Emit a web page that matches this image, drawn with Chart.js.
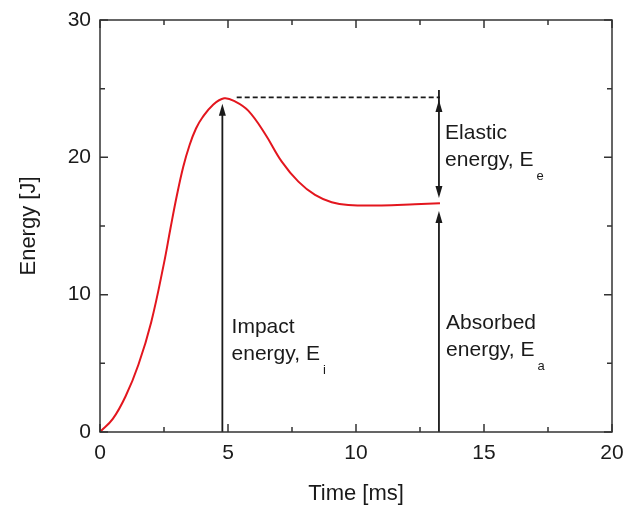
<!DOCTYPE html>
<html>
<head>
<meta charset="utf-8">
<script src="https://cdn.jsdelivr.net/npm/chart.js@4.4.0/dist/chart.umd.min.js"></script>
<style>
  html, body { margin: 0; padding: 0; background: #fff; }
  canvas { display: block; }
</style>
</head>
<body>
<canvas id="energy-chart" width="625" height="506"></canvas>
<script>
// impact test record: energy vs time
const timeMs = [0, 0.5, 1.0, 1.5, 2.0, 2.5, 2.75, 3.0, 3.25, 3.5, 3.75, 4.0, 4.4, 4.85, 5.27, 5.79, 6.45, 7.1, 7.75, 8.4, 9.05, 9.7, 11.0, 12.3, 13.28];
const energyJ = [0, 0.95, 2.6, 4.9, 8.0, 12.3, 14.8, 17.2, 19.3, 20.9, 22.1, 22.9, 23.8, 24.3, 24.08, 23.4, 21.7, 19.69, 18.23, 17.26, 16.73, 16.53, 16.5, 16.58, 16.65];

const xMajor = [0, 5, 10, 15, 20];
const xMinor = [2.5, 7.5, 12.5, 17.5];
const yMajor = [0, 10, 20, 30];
const yMinor = [5, 15, 25];

// dashed reference line at peak energy
const peakLineTime = [5.34, 13.28];
const peakLineEnergy = [24.37, 24.37];

// arrows: x position, start, end, head at start?
const arrowTime = [4.78, 13.24, 13.24];
const arrowFrom = [0, 24.18, 0];
const arrowTo = [23.9, 17.04, 16.1];
const arrowHeadStart = [false, true, false];

// annotation text, anchored at first-line baseline
const noteTime = [5.14, 13.48, 13.52];
const noteEnergy = [7.19, 21.32, 7.48];
const noteLines = [["Impact", "energy, E"], ["Elastic", "energy, E"], ["Absorbed", "energy, E"]];
const noteSubs = ["i", "e", "a"];

const RED = "#e3161e";
const INK = "#1a1a1a";
const AXIS = "#333333";
const FONT = "'Liberation Sans', Arial, sans-serif";

const framePlugin = {
  id: "frame",
  afterDatasetsDraw(chart) {
    const { ctx, chartArea: a, scales: { x, y } } = chart;
    ctx.save();

    // arrows
    ctx.strokeStyle = INK;
    ctx.fillStyle = INK;
    ctx.lineWidth = 1.8;
    arrowTime.forEach((t, i) => {
      const px = x.getPixelForValue(t);
      const p0 = y.getPixelForValue(arrowFrom[i]);
      const p1 = y.getPixelForValue(arrowTo[i]);
      const dir = p1 < p0 ? -1 : 1;
      const headLen = 12;
      const half = 3.5;
      ctx.beginPath();
      ctx.moveTo(px, arrowHeadStart[i] ? p0 - dir * headLen + dir * 2 : p0);
      ctx.lineTo(px, p1 - dir * headLen + dir * 2);
      ctx.stroke();
      const head = (tip, d) => {
        ctx.beginPath();
        ctx.moveTo(px, tip);
        ctx.lineTo(px - half, tip - d * headLen);
        ctx.lineTo(px + half, tip - d * headLen);
        ctx.closePath();
        ctx.fill();
      };
      head(p1, dir);
      if (arrowHeadStart[i]) head(p0, -dir);
    });

    // annotation text with subscripts
    ctx.textBaseline = "alphabetic";
    ctx.textAlign = "left";
    noteTime.forEach((t, i) => {
      const px = x.getPixelForValue(t);
      const py = y.getPixelForValue(noteEnergy[i]);
      ctx.font = "21px " + FONT;
      noteLines[i].forEach((line, j) => {
        ctx.fillText(line, px, py + j * 27);
      });
      const last = noteLines[i][noteLines[i].length - 1];
      const w = ctx.measureText(last).width;
      ctx.font = "13px " + FONT;
      ctx.fillText(noteSubs[i], px + w + 3, py + (noteLines[i].length - 1) * 27 + 14);
    });

    // box frame
    ctx.strokeStyle = AXIS;
    ctx.lineWidth = 1.5;
    ctx.strokeRect(a.left, a.top, a.right - a.left, a.bottom - a.top);

    // inward ticks on all four sides
    const tickX = (vals, len) => vals.forEach((v) => {
      const px = x.getPixelForValue(v);
      ctx.beginPath();
      ctx.moveTo(px, a.bottom); ctx.lineTo(px, a.bottom - len);
      ctx.moveTo(px, a.top); ctx.lineTo(px, a.top + len);
      ctx.stroke();
    });
    const tickY = (vals, len) => vals.forEach((v) => {
      const py = y.getPixelForValue(v);
      ctx.beginPath();
      ctx.moveTo(a.left, py); ctx.lineTo(a.left + len, py);
      ctx.moveTo(a.right, py); ctx.lineTo(a.right - len, py);
      ctx.stroke();
    });
    tickX(xMajor, 8);
    tickX(xMinor, 5);
    tickY(yMajor, 8);
    tickY(yMinor, 5);

    ctx.restore();
  },
};

const ctx = document.getElementById("energy-chart").getContext("2d");
new Chart(ctx, {
  type: "scatter",
  data: {
    datasets: [
      {
        data: timeMs.map((t, i) => ({ x: t, y: energyJ[i] })),
        showLine: true,
        borderColor: RED,
        borderWidth: 2,
        pointRadius: 0,
        tension: 0.4,
      },
      {
        data: peakLineTime.map((t, i) => ({ x: t, y: peakLineEnergy[i] })),
        showLine: true,
        borderColor: INK,
        borderWidth: 1.8,
        borderDash: [5, 3],
        pointRadius: 0,
      },
    ],
  },
  options: {
    responsive: false,
    animation: false,
    devicePixelRatio: 1,
    layout: { padding: { top: 20, right: 13, left: 0, bottom: 0 } },
    plugins: { legend: { display: false }, tooltip: { enabled: false } },
    scales: {
      x: {
        type: "linear",
        min: 0,
        max: 20,
        afterBuildTicks: (scale) => { scale.ticks = xMajor.map((v) => ({ value: v })); },
        afterFit: (scale) => {
          scale.height = 74;
          scale.paddingLeft = 0;
          scale.paddingRight = 0;
        },
        grid: { display: false, drawTicks: false },
        border: { display: false },
        ticks: { padding: 9, maxRotation: 0, color: INK, font: { family: FONT, size: 21 } },
        title: {
          display: true,
          text: "Time [ms]",
          color: INK,
          font: { family: FONT, size: 22, lineHeight: 1 },
          padding: { top: 0, bottom: 1 },
        },
      },
      y: {
        type: "linear",
        min: 0,
        max: 30,
        afterBuildTicks: (scale) => { scale.ticks = yMajor.map((v) => ({ value: v })); },
        afterFit: (scale) => {
          scale.width = 100;
          scale.paddingTop = 0;
          scale.paddingBottom = 0;
        },
        grid: { display: false, drawTicks: false },
        border: { display: false },
        ticks: { padding: 9, color: INK, font: { family: FONT, size: 21 } },
        title: {
          display: true,
          text: "Energy [J]",
          color: INK,
          font: { family: FONT, size: 22, lineHeight: 1 },
          padding: { top: 18, bottom: 0 },
        },
      },
    },
  },
  plugins: [framePlugin],
});
</script>
</body>
</html>
